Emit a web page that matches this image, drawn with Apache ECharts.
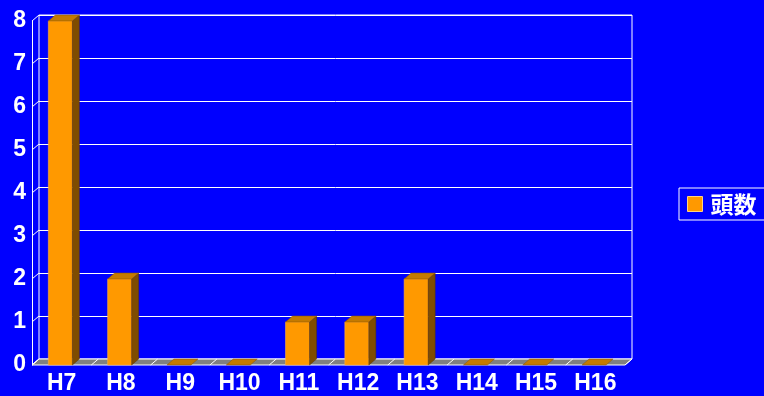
<!DOCTYPE html>
<html><head><meta charset="utf-8">
<script src="https://cdn.jsdelivr.net/npm/echarts@6/dist/echarts.min.js"></script>
<style>html,body{margin:0;padding:0;background:#0000FF;}#c{width:764px;height:396px;}</style>
</head><body><div id="c"></div>
<script>
const categories = ['H7','H8','H9','H10','H11','H12','H13','H14','H15','H16'];
const counts = [8, 2, 0, 0, 1, 1, 2, 0, 0, 0];
const yTicks = [0, 1, 2, 3, 4, 5, 6, 7, 8];
const seriesName = '頭数';

const DX = 7, DY = -6;
const FRONT = '#FF9900', SIDE = '#7F4C00', TOP = '#C47A00';
const FONT = '"Liberation Sans", Arial, "Noto Sans CJK JP", sans-serif';

const chart = echarts.init(document.getElementById('c'));
chart.setOption({
  backgroundColor: '#0000FF',
  animation: false,
  grid: [
    {left: 32, top: 21, width: 593, height: 344, show: false},
    {left: 39, top: 15, width: 593, height: 344, show: true, borderColor: '#FFFFFF', borderWidth: 1, backgroundColor: 'transparent'}
  ],
  legend: {
    data: [seriesName], left: 679, top: 188, orient: 'vertical',
    padding: [4, 10, 4, 8], borderColor: '#FFFFFF', borderWidth: 1,
    itemWidth: 15, itemHeight: 15, icon: 'rect',
    itemStyle: {color: FRONT, borderColor: '#FFD27F', borderWidth: 1},
    textStyle: {color: '#FFFFFF', fontSize: 23, lineHeight: 24, fontWeight: 'bold', fontFamily: '"Noto Sans CJK JP", sans-serif', padding: [0, 0, 0, 3]}
  },
  xAxis: [
    {type: 'category', gridIndex: 0, data: categories, axisLine: {show: false}, axisTick: {show: false},
     axisLabel: {color: '#FFFFFF', fontSize: 23, fontWeight: 'bold', fontFamily: FONT, margin: 7}},
    {type: 'category', gridIndex: 1, data: categories, show: false}
  ],
  yAxis: [
    {type: 'value', gridIndex: 0, min: 0, max: 8, interval: 1, splitLine: {show: false},
     axisLine: {show: true, lineStyle: {color: '#FFFFFF', width: 1}}, axisTick: {show: false},
     axisLabel: {color: '#FFFFFF', fontSize: 23, fontWeight: 'bold', fontFamily: FONT, margin: 6, padding: [4, 0, 0, 0]}},
    {type: 'value', gridIndex: 1, min: 0, max: 8, interval: 1, axisLine: {show: false}, axisTick: {show: false},
     axisLabel: {show: false}, splitLine: {show: true, lineStyle: {color: '#FFFFFF', width: 1}}}
  ],
  series: [
    {
      type: 'custom', name: 'floor', xAxisIndex: 0, yAxisIndex: 0, z: 1, silent: true,
      data: [[0, 0]],
      renderItem: function (params, api) {
        const cs = params.coordSys;
        const yb = cs.y + cs.height;
        const bw = api.size([1, 0])[0];
        const children = [{
          type: 'polygon',
          shape: {points: [[cs.x, yb], [cs.x + cs.width, yb], [cs.x + cs.width + DX, yb + DY], [cs.x + DX, yb + DY]]},
          style: {fill: '#808080', stroke: '#FFFFFF', lineWidth: 1}
        }];
        for (let i = 0; i <= categories.length; i++) {
          const x = api.coord([0, 0])[0] - bw / 2 + i * bw;
          children.push({type: 'line', shape: {x1: x, y1: yb, x2: x + DX, y2: yb + DY}, style: {stroke: '#FFFFFF', lineWidth: 1}});
        }
        return {type: 'group', children: children};
      }
    },
    {
      type: 'custom', name: 'wall', xAxisIndex: 0, yAxisIndex: 0, z: 1, silent: true,
      data: yTicks.map(v => [0, v]),
      renderItem: function (params, api) {
        const cs = params.coordSys;
        const p = api.coord([0, api.value(1)]);
        return {type: 'line', shape: {x1: cs.x, y1: p[1], x2: cs.x + DX, y2: p[1] + DY}, style: {stroke: '#FFFFFF', lineWidth: 1}};
      }
    },
    {
      type: 'custom', name: seriesName, xAxisIndex: 0, yAxisIndex: 0, z: 3,
      itemStyle: {color: FRONT},
      data: counts.map((v, i) => [i, v]),
      renderItem: function (params, api) {
        const top = api.coord([api.value(0), api.value(1)]);
        const base = api.coord([api.value(0), 0]);
        const xl = top[0] - 13.3, xr = top[0] + 10.7;
        const yt = top[1], yb = base[1];
        const children = [];
        if (yb - yt > 0.5) {
          children.push({type: 'rect', shape: {x: xl, y: yt, width: xr - xl, height: yb - yt}, style: {fill: FRONT, stroke: '#FFB040', lineWidth: 0.6}});
          children.push({type: 'polygon', shape: {points: [[xr, yt], [xr + DX, yt + DY], [xr + DX, yb + DY], [xr, yb]]}, style: {fill: SIDE, stroke: '#5A3600', lineWidth: 0.5}});
        }
        children.push({type: 'polygon', shape: {points: [[xl, yt], [xl + DX, yt + DY], [xr + DX, yt + DY], [xr, yt]]}, style: {fill: TOP, stroke: '#8A5500', lineWidth: 0.5}});
        return {type: 'group', children: children};
      }
    }
  ]
});
</script>
</body></html>
